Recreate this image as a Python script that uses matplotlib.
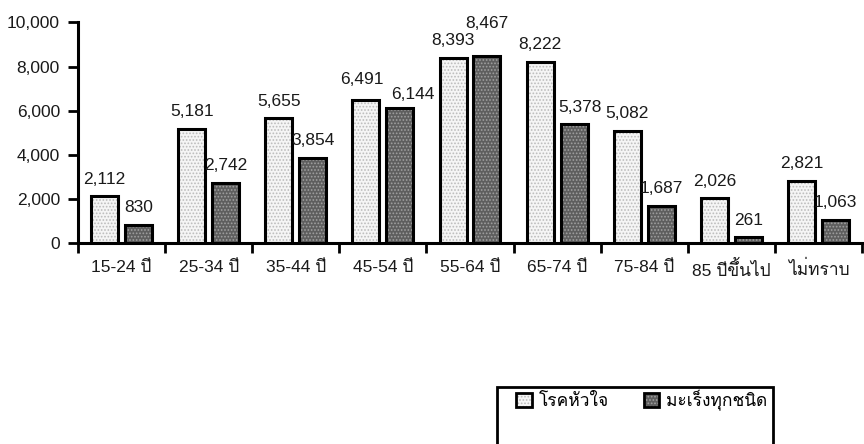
import matplotlib
matplotlib.use("Agg")
import matplotlib.pyplot as plt
import numpy as np
from matplotlib import font_manager as fm
from matplotlib.ft2font import FT2Font
from matplotlib.patches import Rectangle, Patch
from matplotlib.legend_handler import HandlerTuple

categories = ["15-24 ปี", "25-34 ปี", "35-44 ปี", "45-54 ปี", "55-64 ปี",
              "65-74 ปี", "75-84 ปี", "85 ปีขึ้นไป", "ไม่ทราบ"]
heart = [2112, 5181, 5655, 6491, 8393, 8222, 5082, 2026, 2821]
cancer = [830, 2742, 3854, 6144, 8467, 5378, 1687, 261, 1063]
series_names = ["โรคหัวใจ", "มะเร็งทุกชนิด"]
yticks = [0, 2000, 4000, 6000, 8000, 10000]


def find_thai_font():
    names = []
    for f in fm.fontManager.ttflist:
        try:
            cmap = FT2Font(f.fname).get_charmap()
        except Exception:
            continue
        if 0x0E1B in cmap and 0x0E35 in cmap:
            names.append(f.name)
    return names


thai = find_thai_font()
fam = ["Liberation Sans"] + thai[:1] + ["DejaVu Sans"]
plt.rcParams["font.family"] = fam
plt.rcParams["hatch.linewidth"] = 0.8

fig = plt.figure(figsize=(8.64, 4.44), dpi=100)
ax = fig.add_axes([78 / 864, 1 - 243 / 444, 784 / 864, (243 - 22.5) / 444])

x = np.arange(len(categories))
w = 0.31
off = 0.195
styles = [
    dict(face="#f5f5f5", hatch_col="#bcbcbc", hatch="....."),
    dict(face="#5e5e5e", hatch_col="#a0a0a0", hatch="....."),
]
handles = []
for k, (vals, pos) in enumerate(((heart, x - off), (cancer, x + off))):
    st = styles[k]
    ax.bar(pos, vals, w, facecolor=st["face"], edgecolor=st["hatch_col"],
           linewidth=0, hatch=st["hatch"])
    ax.bar(pos, vals, w, edgecolor="black", linewidth=2.2, fill=False)
    p1 = Patch(facecolor=st["face"], edgecolor=st["hatch_col"],
               linewidth=0, hatch=st["hatch"])
    p2 = Patch(fill=False, edgecolor="black", linewidth=2)
    handles.append((p1, p2))

# label nudges in points (dx, dy) for crowded pairs
nudge = {(1, 4): (0, 11), (1, 3): (9, -3), (0, 3): (-3, 2), (1, 5): (4, 0)}
for k, vals in enumerate((heart, cancer)):
    pos = x - off if k == 0 else x + off
    for i, v in enumerate(vals):
        dx, dy = nudge.get((k, i), (0, 0))
        ax.annotate(f"{v:,}", (pos[i], v), xytext=(dx, 7 + dy),
                    textcoords="offset points", ha="center", va="bottom",
                    fontsize=12.5, color="#1a1a1a")

ax.set_xlim(-0.5, len(categories) - 0.5)
ax.set_ylim(0, 10000)
ax.set_yticks(yticks)
ax.set_yticklabels([f"{t:,}" for t in yticks], fontsize=12.5, color="#1a1a1a")
ax.set_xticks(np.arange(-0.5, len(categories), 1.0))
ax.set_xticklabels([])
ax.set_xticks(x, minor=True)
ax.set_xticklabels(categories, minor=True, fontsize=12.5, color="#1a1a1a")
ax.tick_params(axis="x", which="major", direction="out", length=7, width=2)
ax.tick_params(axis="x", which="minor", length=0, pad=12)
ax.tick_params(axis="y", direction="out", length=7, width=2, pad=6)
for s in ("top", "right"):
    ax.spines[s].set_visible(False)
ax.spines["left"].set_linewidth(2.2)
ax.spines["bottom"].set_linewidth(2.2)

rect = Rectangle((497 / 864, -0.05), (773 - 497) / 864, (444 - 387) / 444 + 0.05,
                 transform=fig.transFigure, facecolor="white", edgecolor="black",
                 linewidth=2, clip_on=False)
fig.patches.append(rect)
fig.legend(handles=handles, labels=series_names, loc="center",
           bbox_to_anchor=(642 / 864, 1 - 400 / 444), ncol=2, frameon=False,
           fontsize=12.5, handlelength=0.9, handleheight=0.9, handletextpad=0.4,
           columnspacing=2.0, handler_map={tuple: HandlerTuple(ndivide=1)})

fig.savefig("out.png", dpi=100)
